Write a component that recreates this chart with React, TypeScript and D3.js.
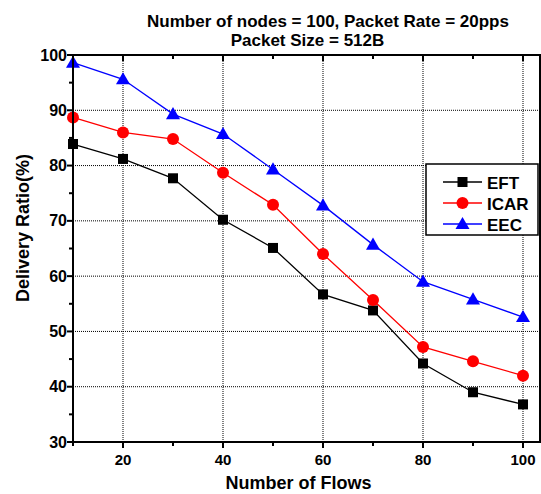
import React from 'react';
import * as d3 from 'd3';

// values
const flows = [10, 20, 30, 40, 50, 60, 70, 80, 90, 100];
const eft = [83.9, 81.2, 77.7, 70.2, 65.1, 56.7, 53.8, 44.2, 39.0, 36.8];
const icar = [88.7, 86.0, 84.8, 78.7, 72.9, 64.0, 55.7, 47.2, 44.6, 42.0];
const eec = [98.6, 95.6, 89.3, 85.7, 79.3, 72.8, 65.7, 59.0, 55.8, 52.6];
const seriesNames = ['EFT', 'ICAR', 'EEC'];
const seriesColors = ['#000000', '#ff0000', '#0000ff'];
const xTicks = [20, 40, 60, 80, 100];
const yTicks = [30, 40, 50, 60, 70, 80, 90, 100];

const W = 541;
const H = 494;
const margin = { left: 73, right: 1, top: 55, bottom: 52 };
const FONT = '"Liberation Sans", Arial, sans-serif';

function Marker({ kind, x, y, color }: { kind: number; x: number; y: number; color: string }) {
  if (kind === 0) return <rect x={x - 5} y={y - 5} width={10} height={10} fill={color} />;
  if (kind === 1) return <circle cx={x} cy={y} r={6} fill={color} />;
  const tri = d3.symbol().type(d3.symbolTriangle).size(85)();
  return <path d={tri || ''} transform={`translate(${x},${y + 1})`} fill={color} />;
}

export default function App() {
  const x = d3.scaleLinear().domain([10, 103.4]).range([margin.left, W - margin.right]);
  const y = d3.scaleLinear().domain([30, 100]).range([H - margin.bottom, margin.top]);
  const x0 = x.range()[0], x1 = x.range()[1];
  const y0 = y.range()[0], y1 = y.range()[1];

  const line = d3.line<[number, number]>().x(d => x(d[0])).y(d => y(d[1]));
  const allSeries = [eft, icar, eec];

  const minorX = d3.range(10, 101, 10);
  const minorY = d3.range(30, 101, 5);

  return (
    <div style={{ position: 'absolute', left: 0, top: 0 }}>
      <svg width={W} height={H} style={{ display: 'block', background: '#fff' }} fontFamily={FONT}>
        {/* title */}
        <text x={328} y={26.5} textAnchor="middle" fontSize={17} fontWeight="bold">
          Number of nodes = 100, Packet Rate = 20pps
        </text>
        <text x={307.5} y={46} textAnchor="middle" fontSize={17} fontWeight="bold">
          Packet Size = 512B
        </text>

        {/* grid */}
        {xTicks.map(t => (
          <line key={'gx' + t} x1={x(t)} x2={x(t)} y1={y1} y2={y0} stroke="#000" strokeWidth={1} strokeDasharray="1,1" />
        ))}
        {yTicks.slice(1, -1).map(t => (
          <line key={'gy' + t} x1={x0} x2={x1} y1={y(t)} y2={y(t)} stroke="#000" strokeWidth={1} strokeDasharray="1,1" />
        ))}

        {/* series */}
        {allSeries.map((vals, i) => (
          <g key={seriesNames[i]}>
            <path
              d={line(flows.map((f, j) => [f, vals[j]] as [number, number])) || ''}
              fill="none"
              stroke={seriesColors[i]}
              strokeWidth={1.3}
            />
            {flows.map((f, j) => (
              <Marker key={j} kind={i} x={x(f)} y={y(vals[j])} color={seriesColors[i]} />
            ))}
          </g>
        ))}

        {/* frame */}
        <rect x={x0} y={y1} width={x1 - x0} height={y0 - y1} fill="none" stroke="#000" strokeWidth={2} />

        {/* x ticks */}
        {minorX.map(t => {
          const major = xTicks.includes(t);
          return (
            <g key={'tx' + t}>
              <line x1={x(t)} x2={x(t)} y1={y0} y2={y0 + (major ? 6 : 4)} stroke="#000" strokeWidth={2} />
              <line x1={x(t)} x2={x(t)} y1={y1} y2={y1 + (major ? 6 : 4)} stroke="#000" strokeWidth={2} />
            </g>
          );
        })}
        {xTicks.map(t => (
          <text key={'lx' + t} x={x(t)} y={465} textAnchor="middle" fontSize={15} fontWeight="bold">
            {t}
          </text>
        ))}

        {/* y ticks */}
        {minorY.map(t => {
          const major = yTicks.includes(t);
          return <line key={'ty' + t} x1={x0 - (major ? 6 : 4)} x2={x0} y1={y(t)} y2={y(t)} stroke="#000" strokeWidth={2} />;
        })}
        {yTicks.map(t => (
          <text key={'ly' + t} x={x0 - 6} y={y(t) + 5.5} textAnchor="end" fontSize={16} fontWeight="bold">
            {t}
          </text>
        ))}

        {/* axis titles */}
        <text x={298.5} y={489} textAnchor="middle" fontSize={18} fontWeight="bold">
          Number of Flows
        </text>
        <text transform={`translate(29,228) rotate(-90)`} textAnchor="middle" fontSize={18} fontWeight="bold">
          Delivery Ratio(%)
        </text>

        {/* legend */}
        <g transform="translate(426,164)">
          <rect x={0} y={0} width={112} height={71} fill="#fff" stroke="#000" strokeWidth={1.5} />
          {seriesNames.map((n, i) => (
            <g key={n} transform={`translate(0,${18 + i * 21})`}>
              <line x1={17} x2={56} y1={0} y2={0} stroke={seriesColors[i]} strokeWidth={1.3} />
              <Marker kind={i} x={36.5} y={0} color={seriesColors[i]} />
              <text x={61} y={6.5} fontSize={17} fontWeight="bold">
                {n}
              </text>
            </g>
          ))}
        </g>
      </svg>
    </div>
  );
}
